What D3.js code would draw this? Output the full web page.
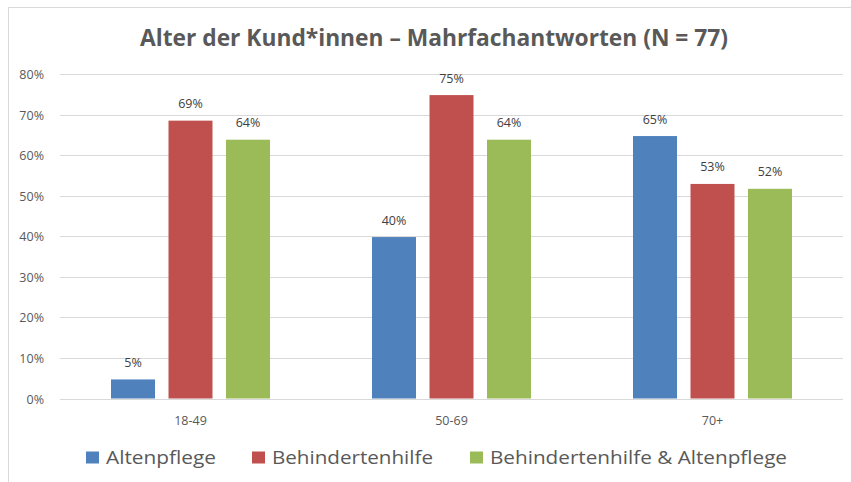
<!DOCTYPE html>
<html>
<head>
<meta charset="utf-8">
<script src="https://cdn.jsdelivr.net/npm/d3@7"></script>
<style>
  body { margin: 0; background: #fff; }
  text { font-family: "Open Sans", "DejaVu Sans", sans-serif; }
</style>
</head>
<body>
<script>
// chart size
var width = 851;
var height = 482;

// data
var categories = ["18-49", "50-69", "70+"];
var seriesNames = ["Altenpflege", "Behindertenhilfe", "Behindertenhilfe & Altenpflege"];
var altenpflege = [4.7, 39.8, 64.7];
var behindertenhilfe = [68.5, 74.8, 52.9];
var beideBereiche = [63.8, 63.8, 51.7];
var labelText = [["5%", "40%", "65%"], ["69%", "75%", "53%"], ["64%", "64%", "52%"]];
var yTicks = [0, 10, 20, 30, 40, 50, 60, 70, 80];
var colors = ["#4f81bd", "#c0504d", "#9bbb59"];

var allSeries = [altenpflege, behindertenhilfe, beideBereiche];

var svg = d3.select("body")
  .append("svg")
  .attr("width", width)
  .attr("height", height);

// outer frame like the excel chart area
svg.append("rect")
  .attr("x", 8.5).attr("y", 7.5)
  .attr("width", 860).attr("height", 500)
  .attr("fill", "#fff")
  .attr("stroke", "#d9d9d9");

var plotLeft = 60, plotRight = 843;
var y = d3.scaleLinear().domain([0, 80]).range([398.5, 74]);

var x0 = d3.scaleBand()
  .domain(categories)
  .range([plotLeft, plotRight])
  .padding(0);

// bar group inside each category band
var groupW = 159;
var x1 = d3.scaleBand()
  .domain(d3.range(seriesNames.length))
  .range([(x0.bandwidth() - groupW) / 2, (x0.bandwidth() + groupW) / 2])
  .paddingInner(0.235);

// gridlines
svg.append("g")
  .selectAll("line")
  .data(yTicks)
  .enter().append("line")
  .attr("x1", plotLeft).attr("x2", plotRight)
  .attr("y1", function(d) { return Math.round(y(d)) + 0.5; })
  .attr("y2", function(d) { return Math.round(y(d)) + 0.5; })
  .attr("stroke", "#d9d9d9")
  .attr("stroke-width", 1);

// y tick labels
svg.append("g")
  .selectAll("text")
  .data(yTicks)
  .enter().append("text")
  .attr("x", 44)
  .attr("y", function(d) { return y(d) + 5; })
  .attr("text-anchor", "end")
  .attr("font-size", 12.5)
  .attr("fill", "#595959")
  .text(function(d) { return d + "%"; });

// bars
var groups = svg.append("g")
  .selectAll("g")
  .data(categories)
  .enter().append("g")
  .attr("transform", function(d) { return "translate(" + x0(d) + ",0)"; });

groups.selectAll("rect")
  .data(function(d, i) { return allSeries.map(function(s, j) { return {s: j, v: s[i], c: i}; }); })
  .enter().append("rect")
  .attr("x", function(d) { return x1(d.s); })
  .attr("width", x1.bandwidth())
  .attr("y", function(d) { return y(d.v); })
  .attr("height", function(d) { return y(0) - y(d.v); })
  .attr("fill", function(d) { return colors[d.s]; });

// data labels
groups.selectAll("text")
  .data(function(d, i) { return allSeries.map(function(s, j) { return {s: j, v: s[i], c: i}; }); })
  .enter().append("text")
  .attr("x", function(d) { return x1(d.s) + x1.bandwidth() / 2; })
  .attr("y", function(d) { return y(d.v) - 12.5; })
  .attr("text-anchor", "middle")
  .attr("font-size", 12.5)
  .attr("fill", "#404040")
  .text(function(d) { return labelText[d.s][d.c]; });

// category labels
svg.append("g")
  .selectAll("text")
  .data(categories)
  .enter().append("text")
  .attr("x", function(d) { return x0(d) + x0.bandwidth() / 2; })
  .attr("y", 425)
  .attr("text-anchor", "middle")
  .attr("font-size", 12.5)
  .attr("fill", "#595959")
  .text(function(d) { return d; });

// title
svg.append("text")
  .attr("x", 434)
  .attr("y", 46)
  .attr("text-anchor", "middle")
  .attr("font-size", 23)
  .attr("font-weight", "bold")
  .attr("fill", "#595959")
  .attr("textLength", 588)
  .attr("lengthAdjust", "spacingAndGlyphs")
  .text("Alter der Kund*innen \u2013 Mahrfachantworten (N = 77)");

// legend
var legendX = [86, 252, 470];
var legendW = [110, 161, 297];
var legend = svg.append("g")
  .selectAll("g")
  .data(seriesNames)
  .enter().append("g")
  .attr("transform", function(d, i) { return "translate(" + legendX[i] + ",0)"; });

legend.append("rect")
  .attr("x", 0).attr("y", 451.5)
  .attr("width", 13).attr("height", 12)
  .attr("fill", function(d, i) { return colors[i]; });

legend.append("text")
  .attr("x", 20)
  .attr("y", 463.5)
  .attr("font-size", 19)
  .attr("fill", "#595959")
  .attr("textLength", function(d, i) { return legendW[i]; })
  .attr("lengthAdjust", "spacingAndGlyphs")
  .text(function(d) { return d; });
</script>
</body>
</html>
